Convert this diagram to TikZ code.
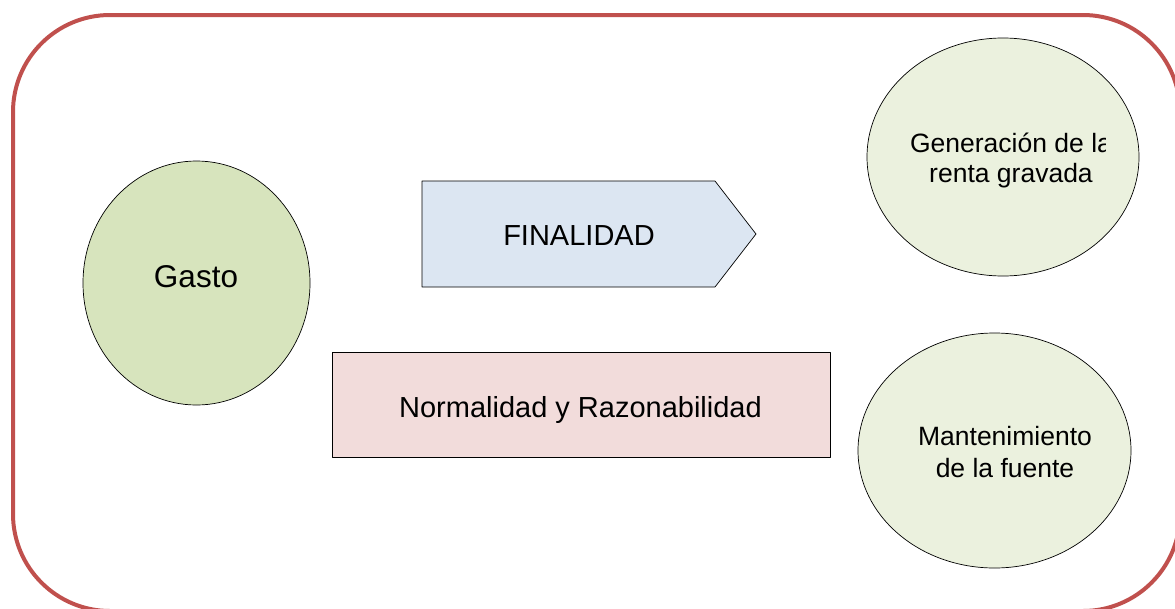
\documentclass[tikz,border=0pt]{standalone}
\usepackage{fontspec}
\setmainfont{Liberation Sans}
\usetikzlibrary{shapes.geometric}
\definecolor{marco}{HTML}{C0504D}
\definecolor{verdeosc}{HTML}{D7E4BD}
\definecolor{verdecla}{HTML}{EBF1DE}
\definecolor{azulcla}{HTML}{DCE6F2}
\definecolor{rosacla}{HTML}{F2DCDB}
\begin{document}
\begin{tikzpicture}[x=1pt,y=-1pt,line join=round,line cap=round]
	\useasboundingbox (0,0) rectangle (1175,608);
	\tikzset{elip/.style={ellipse,draw=black,line width=0.7pt,inner sep=0pt},
		txt/.style={inner sep=0pt,align=center},
		grande/.style={font=\fontsize{31.5}{36}\selectfont},
		medio/.style={font=\fontsize{29}{34}\selectfont},
		chico/.style={font=\fontsize{26.5}{30}\selectfont}}
	\draw[marco,line width=4pt,rounded corners=97] (13,15) rectangle (1180,611);
	% izquierda
	\node[elip,fill=verdeosc,minimum width=227,minimum height=244] (gasto) at (196.5,283) {};
	\node[txt,grande,anchor=base] (gastotxt) at (196,287) {Gasto};
	% centro
	\draw[fill=azulcla,line width=0.7pt] (422,181) -- (715,181) -- (756,234) -- (715,287) -- (422,287) -- cycle;
	\node[txt,medio,anchor=base] (finalidad) at (579,245) {FINALIDAD};
	\draw[fill=rosacla,line width=0.7pt] (332,352) rectangle (830,457);
	\node[txt,medio,anchor=base] (normalidad) at (580.5,417) {Normalidad y Razonabilidad};
	% derecha
	\node[elip,fill=verdecla,minimum width=272,minimum height=238] (generacion) at (1003,157) {};
	\begin{scope}
		\clip (860,100) rectangle (1105,200);
		\node[txt,chico] (generaciontxt) at (1011,160) {Generación de la\\renta gravada};
	\end{scope}
	\node[elip,fill=verdecla,minimum width=273,minimum height=235] (mantenimiento) at (994.5,450.5) {};
	\node[txt,chico,font=\fontsize{26.5}{31.5}\selectfont] (mantenimientotxt) at (1005,452) {Mantenimiento\\de la fuente};
\end{tikzpicture}
\end{document}
